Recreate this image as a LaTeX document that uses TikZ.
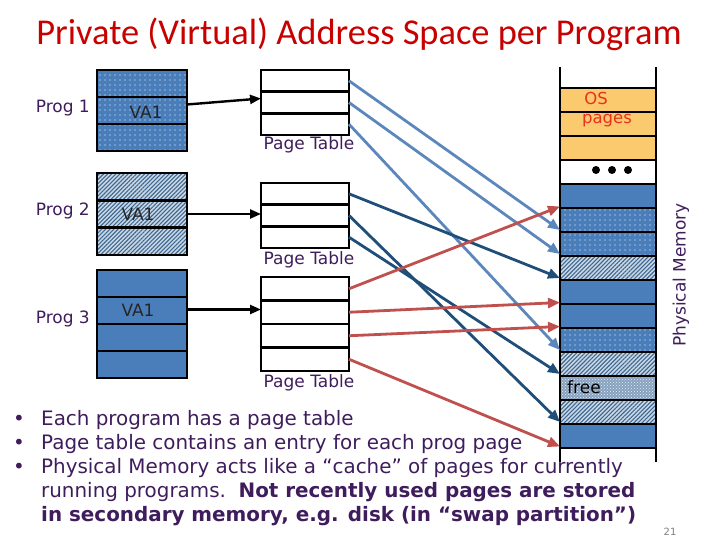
\documentclass[tikz,border=0pt]{standalone}
\usepackage{fontspec}
\setmainfont{DejaVu Sans}
\newfontfamily\titlefont{Carlito}
\usetikzlibrary{arrows.meta,patterns,patterns.meta,calc}
\definecolor{tpurple}{HTML}{3F1D5C}
\definecolor{sblue}{HTML}{4A7EBB}
\definecolor{hbg}{HTML}{CAD8E6}
\definecolor{hline}{HTML}{3F6890}
\definecolor{freebg}{HTML}{86A2BF}
\definecolor{osor}{HTML}{FBC96E}
\definecolor{osred}{HTML}{E8321E}
\definecolor{ltarrow}{HTML}{5B87BC}
\definecolor{dkarrow}{HTML}{1F4E79}
\definecolor{rdarrow}{HTML}{C0504D}
\definecolor{titlered}{HTML}{C80000}
\begin{document}
\begin{tikzpicture}[x=1pt,y=-1pt,
  cellbase/.style={draw=black, inner sep=0pt, outer sep=0pt},
  vcell/.style={cellbase, line width=2.6pt, minimum width=90pt, minimum height=27pt},
  ptcell/.style={cellbase, fill=white, line width=2.6pt, minimum width=88pt},
  mcell/.style={cellbase, line width=2.2pt, minimum width=96pt, minimum height=24pt},
  dotc/.style={preaction={fill=sblue}, pattern={Dots[radius=0.55pt,distance=5pt]}, pattern color=white},
  hatc/.style={preaction={fill=hbg}, pattern={Lines[angle=45,distance=2.9pt,line width=1.1pt]}, pattern color=hline},
  solc/.style={fill=sblue},
  osc/.style={fill=osor},
  freec/.style={preaction={fill=freebg}, pattern=crosshatch dots, pattern color=white!60!hbg},
  lbl/.style={text=tpurple, font=\fontsize{17pt}{20pt}\selectfont, inner sep=0pt},
  bodytxt/.style={text=tpurple, font=\fontsize{19.9pt}{24pt}\selectfont, inner sep=0pt, anchor=base west},
  pmap/.style={line width=2.8pt, -{Triangle[length=12pt,width=10pt]}},
  blkarrow/.style={line width=2.4pt, black, -{Triangle[length=11pt,width=9pt]}}
]
\useasboundingbox (0,0) rectangle (720,540);

% title
\node[anchor=base, text=titlered, font=\titlefont\fontsize{36.4pt}{42pt}\selectfont, inner sep=0pt] (title) at (359,45) {Private (Virtual) Address Space per Program};

% program blocks
\node[vcell, dotc] (p1a) at (142,83.5) {};
\node[vcell, dotc] (p1b) at (142,110.5) {};
\node[vcell, dotc] (p1c) at (142,137.5) {};
\node[vcell, hatc] (p2a) at (142,186.7) {};
\node[vcell, hatc] (p2b) at (142,214) {};
\node[vcell, hatc] (p2c) at (142,241.3) {};
\node[vcell, solc] (p3a) at (142,283.5) {};
\node[vcell, solc] (p3b) at (142,310.5) {};
\node[vcell, solc] (p3c) at (142,337.5) {};
\node[vcell, solc] (p3d) at (142,364.5) {};

\node[lbl, text=black!85] (va1a) at (146,112) {VA1};
\node[lbl, text=black!85] (va1b) at (138,214) {VA1};
\node[lbl, text=black!85] (va1c) at (138,310) {VA1};

\node[lbl, anchor=east] (prog1) at (90,108) {Prog 1};
\node[lbl, anchor=east] (prog2) at (90,211) {Prog 2};
\node[lbl, anchor=east] (prog3) at (90,319) {Prog 3};

% page tables
\node[ptcell, minimum height=21.7pt] (pt1a) at (305,80.8) {};
\node[ptcell, minimum height=21.7pt] (pt1b) at (305,102.5) {};
\node[ptcell, minimum height=21.7pt] (pt1c) at (305,124.2) {};
\node[ptcell, minimum height=21.7pt] (pt2a) at (305,193.8) {};
\node[ptcell, minimum height=21.7pt] (pt2b) at (305,215.5) {};
\node[ptcell, minimum height=21.7pt] (pt2c) at (305,237.2) {};
\node[ptcell, minimum height=23.5pt] (pt3a) at (305,288.75) {};
\node[ptcell, minimum height=23.5pt] (pt3b) at (305,312.25) {};
\node[ptcell, minimum height=23.5pt] (pt3c) at (305,335.75) {};
\node[ptcell, minimum height=23.5pt] (pt3d) at (305,359.25) {};

\node[lbl] (ptl1) at (309,145) {Page Table};
\node[lbl] (ptl2) at (309,260) {Page Table};
\node[lbl] (ptl3) at (309,383) {Page Table};

% physical memory
\node[mcell, osc] (m1) at (608,100) {};
\node[mcell, osc] (m2) at (608,124) {};
\node[mcell, osc] (m3) at (608,148) {};
\node[mcell, fill=white] (m4) at (608,172) {};
\node[mcell, solc] (m5) at (608,196) {};
\node[mcell, dotc] (m6) at (608,220) {};
\node[mcell, dotc] (m7) at (608,244) {};
\node[mcell, hatc] (m8) at (608,268) {};
\node[mcell, solc] (m9) at (608,292) {};
\node[mcell, solc] (m10) at (608,316) {};
\node[mcell, dotc] (m11) at (608,340) {};
\node[mcell, hatc] (m12) at (608,364) {};
\node[mcell, freec] (m13) at (608,388) {};
\node[mcell, hatc] (m14) at (608,412) {};
\node[mcell, solc] (m15) at (608,436) {};

\coordinate (mtl) at (560,67);
\coordinate (mbl) at (560,462);
\coordinate (mtr) at (656,67);
\coordinate (mbr) at (656,462);
\draw[line width=2.6pt] (mtl) -- (mbl);
\draw[line width=2.6pt] (mtr) -- (mbr);

\node[text=osred, font=\fontsize{16.5pt}{20pt}\selectfont, inner sep=0pt] (os) at (596,98) {OS};
\node[text=osred, font=\fontsize{16.5pt}{20pt}\selectfont, inner sep=0pt] (pages) at (607,121) {pages};
\node[font=\fontsize{17pt}{20pt}\selectfont, inner sep=0pt, text=black] (free) at (584,387) {free};
\fill (596,170) circle (4pt) (612,170) circle (4pt) (628,170) circle (4pt);

\node[lbl, rotate=90] (physmem) at (681,275) {Physical Memory};

% black arrows
\draw[blkarrow] ([yshift=6pt]p1b.east) -- ([yshift=4pt]pt1b.west);
\draw[blkarrow] (p2b.east) -- (p2b.east -| pt2b.west);
\draw[blkarrow] ([yshift=1pt]p3b.east) -- ([yshift=1pt]p3b.east -| pt3b.west);

% mapping arrows
\draw[pmap, ltarrow] (pt1a.east) -- ([yshift=2pt]m6.south west);
\draw[pmap, ltarrow] (pt1b.east) -- ([yshift=2pt]m7.south west);
\draw[pmap, ltarrow] (pt1c.east) -- ([yshift=2pt]m11.south west);
\draw[pmap, dkarrow] (pt2a.east) -- ([yshift=2pt]m8.south west);
\draw[pmap, dkarrow] (pt2b.east) -- ([yshift=2pt]m14.south west);
\draw[pmap, dkarrow] (pt2c.east) -- ([yshift=2pt]m12.south west);
\draw[pmap, rdarrow] (pt3a.east) -- ([yshift=1.5pt]m5.south west);
\draw[pmap, rdarrow] (pt3b.east) -- ([yshift=1.5pt]m9.south west);
\draw[pmap, rdarrow] (pt3c.east) -- ([yshift=1.5pt]m10.south west);
\draw[pmap, rdarrow] (pt3d.east) -- ([yshift=1.5pt]m15.south west);

% bullet text
\node[bodytxt] (b1) at (13,425) {•};
\node[bodytxt] (b2) at (13,449) {•};
\node[bodytxt] (b3) at (13,473) {•};
\node[bodytxt] (l1) at (41,425) {Each program has a page table};
\node[bodytxt] (l2) at (41,449) {Page table contains an entry for each prog page};
\node[bodytxt] (l3) at (41,473) {Physical Memory acts like a “cache” of pages for currently};
\node[bodytxt] (l4) at (41,497) {running programs.\ \ \textbf{Not recently used pages are stored}};
\node[bodytxt] (l5) at (41,521) {\textbf{in secondary memory, e.g. disk (in “swap partition”)}};

\node[text=gray, font=\fontsize{10pt}{12pt}\selectfont, inner sep=0pt] (pnum) at (670,532) {21};
\end{tikzpicture}
\end{document}
